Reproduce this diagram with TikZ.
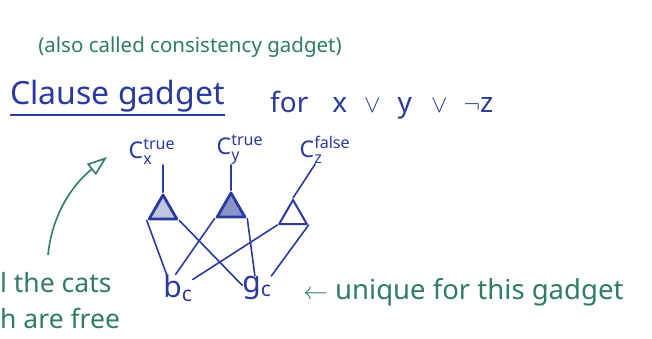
\documentclass[tikz,border=0pt]{standalone}
\usepackage{amsmath}
\usepackage{fontspec}
\setmainfont{Noto Sans}
\usetikzlibrary{shapes.geometric,arrows.meta}
\definecolor{pen}{HTML}{2B3A9C}
\definecolor{ink}{HTML}{2F7D62}
\tikzset{
  bluetext/.style={text=pen, inner sep=0pt},
  greentext/.style={text=ink, inner sep=0pt},
  tri/.style={draw=pen, regular polygon, regular polygon sides=3, minimum size=32pt, inner sep=0pt, line width=2pt, line join=round},
  wire/.style={draw=pen, line width=1.6pt, line cap=round},
}
\begin{document}
\begin{tikzpicture}[x=1pt,y=-1pt]
\useasboundingbox (0,0) rectangle (652,338);
\clip (0,0) rectangle (652,338);
\fill[white] (0,0) rectangle (652,338);

% headings
\node[greentext, font=\fontsize{20.5}{24}\selectfont] (sub) at (190,47) {(also called consistency gadget)};
\node[bluetext, font=\fontsize{32}{36}\selectfont, anchor=base west] (title) at (10,104) {Clause gadget};
\draw[pen, line width=1.6pt] ([yshift=-3pt]title.south west) -- ([yshift=-3pt]title.south east);
\node[bluetext, font=\fontsize{28}{32}\selectfont, anchor=base west] (for) at (270,112) {for\hspace{24pt}x\hspace{17pt}$\vee$\hspace{17pt}y\hspace{19pt}$\vee$\hspace{16pt}$\neg$z};

% variable labels
\node[bluetext, font=\fontsize{23}{26}\selectfont] (cx) at (152,152) {C$_{\text{x}}^{\text{true}}$};
\node[bluetext, font=\fontsize{23}{26}\selectfont] (cy) at (240,150) {C$_{\text{y}}^{\text{true}}$};
\node[bluetext, font=\fontsize{23}{26}\selectfont] (cz) at (325,150) {C$_{\text{z}}^{\text{false}}$};

% triangles
\node[tri, fill=pen!30, line width=2.8pt] (t1) at (163,211) {};
\node[tri, fill=pen!55, line width=2.8pt] (t2) at (231,209) {};
\node[tri] (t3) at (293,216) {};

% b_c and g_c
\node[bluetext, font=\fontsize{30}{32}\selectfont] (b) at (178,288) {b$_{\text{c}}$};
\node[bluetext, font=\fontsize{30}{32}\selectfont] (g) at (257,288) {g$_{\text{c}}$};

% label-to-triangle wires
\draw[wire] (t1.corner 1) -- (t1.corner 1 |- cx.south);
\draw[wire] (t2.corner 1) -- (t2.corner 1 |- cy.south);
\draw[wire] (t3.corner 1) -- (cz.235);

% triangle-to-b/g wires
\draw[wire] (t1.corner 2) -- (b.130);
\draw[wire] (t1.corner 3) -- (g.170);
\draw[wire] (t2.corner 2) -- (b.100);
\draw[wire] (t2.corner 3) -- (g.100);
\draw[wire] (t3.corner 2) -- (b.30);
\draw[wire] (t3.corner 3) -- (g.40);

% note on the right
\node[greentext, font=\fontsize{27.5}{31}\selectfont, anchor=west] (uniq) at (303,292) {$\leftarrow$ unique for this gadget};

% note on the left
\node[greentext, font=\fontsize{26.5}{30}\selectfont, anchor=west] (cats) at (0,283) {l the cats};
\node[greentext, font=\fontsize{26.5}{30}\selectfont, anchor=west] (free) at (0,318) {h are free};
\coordinate (a0) at (48,255);
\coordinate (a1) at (107,157);
\draw[ink, line width=1.6pt, -{Triangle[open, length=20pt, width=14pt]}] (a0) .. controls (52,215) and (72,185) .. (a1);
\end{tikzpicture}
\end{document}
